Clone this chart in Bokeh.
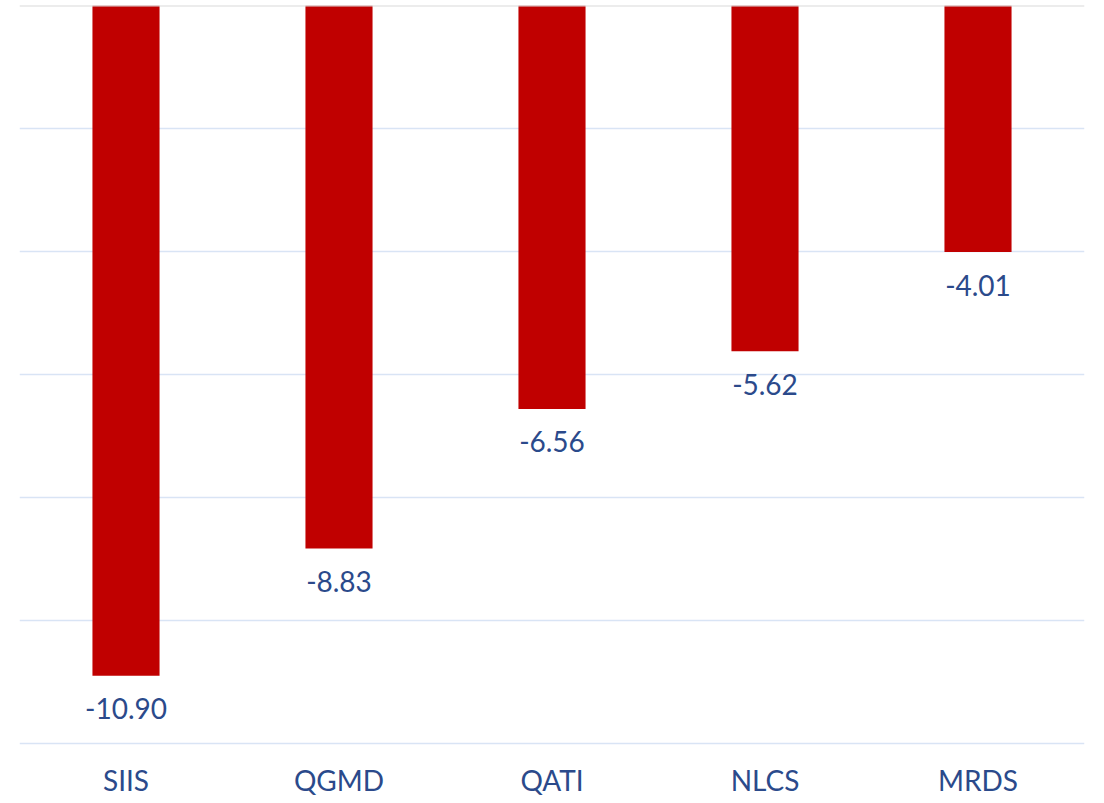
from bokeh.plotting import figure
from bokeh.models import ColumnDataSource, FixedTicker, Span, LabelSet
from bokeh.core.properties import value
from bokeh.embed import file_html
from bokeh.resources import INLINE

categories = ["SIIS", "QGMD", "QATI", "NLCS", "MRDS"]
values = [-10.90, -8.83, -6.56, -5.62, -4.01]
labels = ["-10.90", "-8.83", "-6.56", "-5.62", "-4.01"]

src = ColumnDataSource(dict(cat=categories, val=values, lab=labels))

p = figure(x_range=categories, y_range=(-12.0325, 0),
           frame_width=1065, frame_height=740,
           output_backend="svg", toolbar_location=None,
           min_border_left=19, min_border_right=4, min_border_top=5, min_border_bottom=40)
p.outline_line_color = None
p.background_fill_color = "white"
p.border_fill_color = "white"

p.vbar(x="cat", top=0, bottom="val", width=0.315, source=src,
       fill_color="#C00000", line_color=None)

p.xgrid.visible = False
p.yaxis.visible = False
p.ygrid.ticker = FixedTicker(ticks=[-12, -10, -8, -6, -4, -2])
p.ygrid.grid_line_color = "#D9E4F5"
p.ygrid.grid_line_width = 1.3

p.add_layout(Span(location=0, dimension="width", line_color="#D9D9D9", line_width=2))

p.xaxis.axis_line_color = None
p.xaxis.major_tick_line_color = None
p.xaxis.minor_tick_line_color = None
p.xaxis.major_tick_out = 0
p.xaxis.major_label_text_font = "Lato"
p.xaxis.major_label_text_font_size = "28px"
p.xaxis.major_label_text_color = "#2B4A8B"
p.xaxis.major_label_standoff = 17

lbl = LabelSet(x="cat", y="val", text="lab", source=src, text_align="center",
               text_baseline="middle", y_offset=-33, text_font=value("Lato"),
               text_font_size="28px", text_color="#2B4A8B")
p.add_layout(lbl)

open("out.html", "w").write(file_html(p, INLINE))
